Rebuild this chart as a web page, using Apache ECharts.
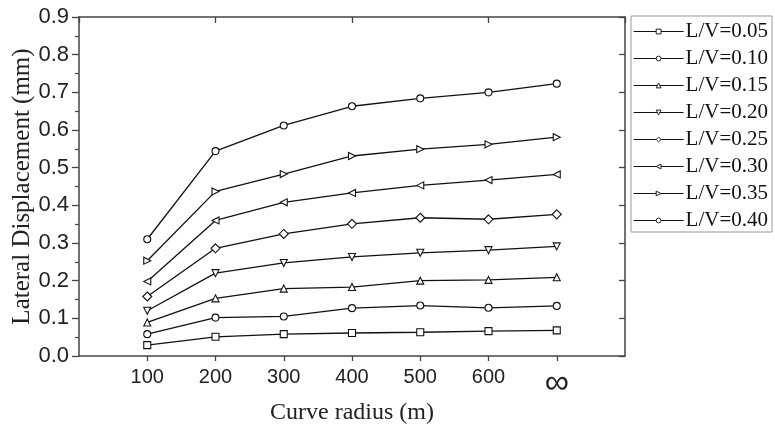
<!DOCTYPE html>
<html>
<head>
<meta charset="utf-8">
<script src="https://cdn.jsdelivr.net/npm/echarts@6/dist/echarts.min.js"></script>
<style>
  html, body { margin: 0; padding: 0; background: #fff; }
  #chart { width: 775px; height: 430px; }
</style>
</head>
<body>
<div id="chart"></div>
<script>
// curve radius positions (700 is drawn as infinity)
var radius = [100, 200, 300, 400, 500, 600, 700];
var seriesNames = ["L/V=0.05", "L/V=0.10", "L/V=0.15", "L/V=0.20", "L/V=0.25", "L/V=0.30", "L/V=0.35", "L/V=0.40"];

var lv005 = [0.029, 0.051, 0.058, 0.061, 0.063, 0.066, 0.068];
var lv010 = [0.058, 0.102, 0.105, 0.127, 0.134, 0.128, 0.133];
var lv015 = [0.089, 0.153, 0.179, 0.183, 0.200, 0.202, 0.209];
var lv020 = [0.120, 0.220, 0.247, 0.263, 0.274, 0.281, 0.291];
var lv025 = [0.158, 0.286, 0.324, 0.351, 0.367, 0.363, 0.376];
var lv030 = [0.198, 0.360, 0.408, 0.433, 0.453, 0.467, 0.482];
var lv035 = [0.253, 0.437, 0.483, 0.531, 0.549, 0.562, 0.581];
var lv040 = [0.310, 0.544, 0.612, 0.663, 0.684, 0.700, 0.723];

var allData = [lv005, lv010, lv015, lv020, lv025, lv030, lv035, lv040];
var symbols = ["rect", "circle", "triangle", "triangle", "diamond", "triangle", "triangle", "circle"];
var rotates = [0, 0, 0, 180, 0, 90, -90, 0];

var serif = "'Liberation Serif', 'DejaVu Serif', serif";
var sans = "'Liberation Sans', Arial, sans-serif";

var series = allData.map(function (d, i) {
  return {
    name: seriesNames[i],
    type: "line",
    data: d.map(function (v, j) { return [radius[j], v]; }),
    symbol: symbols[i],
    symbolRotate: rotates[i],
    symbolSize: symbols[i] == "diamond" ? 9 : 7,
    lineStyle: { color: "#111", width: 1.3 },
    itemStyle: { color: "#fff", borderColor: "#111", borderWidth: 1.1 },
    animation: false
  };
});

var chart = echarts.init(document.getElementById("chart"));
chart.setOption({
  backgroundColor: "#fff",
  grid: { left: 79, top: 17, width: 546, height: 339, outerBoundsMode: "none", containLabel: false },
  legend: {
    orient: "vertical",
    left: 631,
    top: 16,
    width: 142,
    itemWidth: 50,
    itemHeight: 6,
    itemGap: 6,
    padding: [5, 4, 1, 2],
    borderColor: "#999",
    borderWidth: 1,
    itemStyle: { color: "#fff", borderColor: "#222", borderWidth: 1 },
    lineStyle: { color: "#111", width: 1.2 },
    textStyle: { fontFamily: serif, fontSize: 21, lineHeight: 21, color: "#111", padding: [0, 0, 0, -3] },
    data: seriesNames
  },
  xAxis: [
    {
      type: "value",
      min: 0,
      max: 800,
      interval: 100,
      name: "Curve radius (m)",
      nameLocation: "middle",
      nameGap: 45,
      nameMoveOverlap: false,
      nameTextStyle: { fontFamily: serif, fontSize: 24, color: "#222" },
      axisLine: { onZero: false, lineStyle: { color: "#444", width: 1.5 } },
      axisTick: { inside: false, length: 5, customValues: radius, lineStyle: { color: "#444", width: 1.3 } },
      splitLine: { show: false },
      axisLabel: {
        margin: 11,
        color: "#222",
        fontFamily: sans,
        fontSize: 20,
        customValues: radius,
        formatter: function (v) {
          if (v == 700) return "{inf|∞}";
          return String(v);
        },
        rich: { inf: { fontSize: 34, fontFamily: sans, color: "#222" } }
      }
    },
    {
      type: "value",
      position: "top",
      min: 0,
      max: 800,
      interval: 200,
      axisLine: { show: true, onZero: false, lineStyle: { color: "#444", width: 1.5 } },
      axisTick: { show: true, inside: true, length: 6, lineStyle: { color: "#444", width: 1.3 } },
      axisLabel: { show: false },
      splitLine: { show: false }
    }
  ],
  yAxis: [
    {
      type: "value",
      min: 0,
      max: 0.9,
      interval: 0.1,
      name: "Lateral Displacement (mm)",
      nameLocation: "middle",
      nameGap: 44,
      nameMoveOverlap: false,
      nameTextStyle: { fontFamily: serif, fontSize: 25, color: "#222" },
      axisLine: { show: true, onZero: false, lineStyle: { color: "#444", width: 1.5 } },
      axisTick: { show: true, length: 7, lineStyle: { color: "#444", width: 1.3 } },
      minorTick: { show: true, splitNumber: 2, length: 4, lineStyle: { color: "#444", width: 1.2 } },
      splitLine: { show: false },
      axisLabel: {
        margin: 10,
        color: "#222",
        fontFamily: sans,
        fontSize: 22,
        formatter: function (v) { return v.toFixed(1); }
      }
    },
    {
      type: "value",
      position: "right",
      min: 0,
      max: 0.9,
      interval: 0.1,
      axisLine: { show: true, onZero: false, lineStyle: { color: "#444", width: 1.5 } },
      axisTick: { show: true, inside: true, length: 6, lineStyle: { color: "#444", width: 1.3 } },
      axisLabel: { show: false },
      splitLine: { show: false }
    }
  ],
  series: series
});
</script>
</body>
</html>
